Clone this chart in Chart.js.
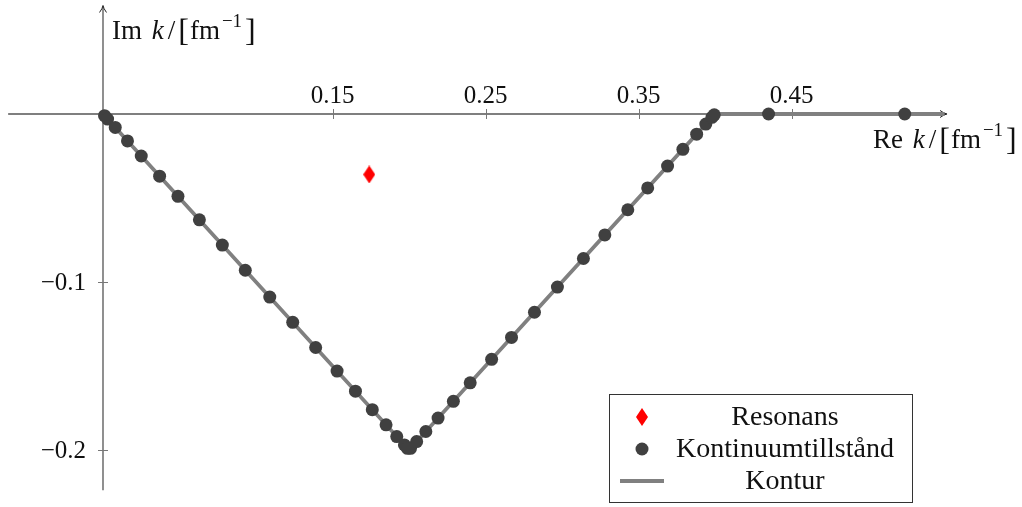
<!DOCTYPE html>
<html>
<head>
<meta charset="utf-8">
<script src="https://cdn.jsdelivr.net/npm/chart.js@4/dist/chart.umd.min.js"></script>
<style>
  html, body { margin: 0; padding: 0; background: #fff; }
  #wrap { width: 1022px; height: 507px; }
</style>
</head>
<body>
<div id="wrap"><canvas id="kChart" width="1022" height="507"></canvas></div>
<script>
// resonance pole
var resRe = [0.174];
var resIm = [-0.036];

// continuum states along the contour
var contRe = [0.001, 0.003, 0.008, 0.016, 0.025, 0.037, 0.049, 0.063, 0.078, 0.093,
              0.109, 0.124, 0.139, 0.153, 0.165, 0.176, 0.185, 0.192, 0.197, 0.199,
              0.201, 0.205, 0.211, 0.219, 0.229, 0.240, 0.254, 0.267, 0.282, 0.297,
              0.314, 0.328, 0.343, 0.356, 0.369, 0.379, 0.388, 0.394, 0.398, 0.3995,
              0.435, 0.524];
var contIm = [-0.001, -0.003, -0.008, -0.016, -0.025, -0.037, -0.049, -0.063, -0.078, -0.093,
              -0.109, -0.124, -0.139, -0.153, -0.165, -0.176, -0.185, -0.192, -0.197, -0.199,
              -0.199, -0.195, -0.189, -0.181, -0.171, -0.160, -0.146, -0.133, -0.118, -0.103,
              -0.086, -0.072, -0.057, -0.044, -0.031, -0.021, -0.012, -0.006, -0.002, -0.0005,
              0, 0];

// contour corners
var konturRe = [0, 0.2, 0.4, 0.55];
var konturIm = [0, -0.2, 0, 0];

var xTicks = [0.15, 0.25, 0.35, 0.45];
var xTickLabels = ['0.15', '0.25', '0.35', '0.45'];
var yTicks = [-0.1, -0.2];
var yTickLabels = ['\u22120.1', '\u22120.2'];

var seriesNames = ['Resonans', 'Kontinuumtillst\u00e5nd', 'Kontur'];

function pairs(xs, ys) {
    var out = [];
    for (var i = 0; i < xs.length; i++) out.push({ x: xs[i], y: ys[i] });
    return out;
}

// tall red diamond marker
var diamond = document.createElement('canvas');
diamond.width = 12;
diamond.height = 18;
var dctx = diamond.getContext('2d');
dctx.fillStyle = '#ff0000';
dctx.beginPath();
dctx.moveTo(6, 0);
dctx.lineTo(12, 9);
dctx.lineTo(6, 18);
dctx.lineTo(0, 9);
dctx.closePath();
dctx.fill();

var serif = '"Liberation Serif", "DejaVu Serif", serif';

function drawRich(ctx, parts, x, y) {
    ctx.textAlign = 'left';
    ctx.textBaseline = 'alphabetic';
    for (var i = 0; i < parts.length; i++) {
        var p = parts[i];
        ctx.font = p.font;
        ctx.fillText(p.t, x, y + (p.dy || 0));
        x += ctx.measureText(p.t).width + (p.gap || 0);
    }
}

function axisLabel(name) {
    return [
        { t: name + ' ', font: '27px ' + serif, gap: 3 },
        { t: 'k', font: 'italic 27px ' + serif, gap: 4 },
        { t: '/', font: '27px ' + serif, gap: 3 },
        { t: '[', font: '32px ' + serif, dy: 2, gap: 1 },
        { t: 'fm', font: '27px ' + serif, gap: 2 },
        { t: '\u22121', font: '19px ' + serif, dy: -12, gap: 3 },
        { t: ']', font: '32px ' + serif, dy: 2 }
    ];
}

var axesPlugin = {
    id: 'axesPlugin',
    beforeDatasetsDraw: function (chart) {
        var ctx = chart.ctx;
        var xs = chart.scales.x, ys = chart.scales.y;
        var x0 = xs.getPixelForValue(0), y0 = ys.getPixelForValue(0);
        var xl = xs.getPixelForValue(-0.062), xr = xs.getPixelForValue(0.551);
        var yb = ys.getPixelForValue(-0.224), yt = ys.getPixelForValue(0.064);
        ctx.save();
        ctx.strokeStyle = '#555';
        ctx.fillStyle = '#222';
        ctx.lineWidth = 1.3;
        ctx.beginPath();
        ctx.moveTo(xl, y0); ctx.lineTo(xr, y0);
        ctx.moveTo(x0, yb); ctx.lineTo(x0, yt);
        ctx.stroke();
        // arrow heads
        ctx.lineWidth = 1;
        ctx.strokeStyle = '#222';
        ctx.beginPath();
        ctx.moveTo(xr - 6, y0 - 3.5); ctx.quadraticCurveTo(xr - 2, y0 - 0.5, xr + 1, y0);
        ctx.quadraticCurveTo(xr - 2, y0 + 0.5, xr - 6, y0 + 3.5);
        ctx.moveTo(x0 - 3.5, yt + 6); ctx.quadraticCurveTo(x0 - 0.5, yt + 2, x0, yt - 1);
        ctx.quadraticCurveTo(x0 + 0.5, yt + 2, x0 + 3.5, yt + 6);
        ctx.stroke();
        // ticks
        ctx.strokeStyle = '#777';
        ctx.lineWidth = 1;
        ctx.beginPath();
        xTicks.forEach(function (v) {
            var px = Math.round(xs.getPixelForValue(v)) + 0.5;
            ctx.moveTo(px, y0 - 5); ctx.lineTo(px, y0 + 5);
        });
        yTicks.forEach(function (v) {
            var py = Math.round(ys.getPixelForValue(v)) + 0.5;
            ctx.moveTo(x0 - 5, py); ctx.lineTo(x0 + 5, py);
        });
        ctx.stroke();
        // tick labels
        ctx.fillStyle = '#111';
        ctx.font = '25px ' + serif;
        ctx.textAlign = 'center';
        ctx.textBaseline = 'alphabetic';
        xTicks.forEach(function (v, i) {
            ctx.fillText(xTickLabels[i], xs.getPixelForValue(v), y0 - 11);
        });
        ctx.textAlign = 'right';
        ctx.textBaseline = 'middle';
        yTicks.forEach(function (v, i) {
            ctx.fillText(yTickLabels[i], x0 - 17, ys.getPixelForValue(v) + 1);
        });
        // axis titles
        drawRich(ctx, axisLabel('Im'), x0 + 9, 39);
        drawRich(ctx, axisLabel('Re'), 873, y0 + 34);
        ctx.restore();
    },
    afterDraw: function (chart) {
        var ctx = chart.ctx;
        var ds = chart.data.datasets;
        ctx.save();
        ctx.fillStyle = '#fff';
        ctx.fillRect(609, 394, 303, 109);
        ctx.strokeStyle = '#333';
        ctx.lineWidth = 1;
        ctx.strokeRect(609.5, 394.5, 303, 108);
        var rows = [417, 449, 481];
        // symbols
        ctx.drawImage(diamond, 642 - 6, rows[0] - 9);
        ctx.fillStyle = ds[1].backgroundColor;
        ctx.beginPath();
        ctx.arc(642, rows[1], 6.5, 0, Math.PI * 2);
        ctx.fill();
        ctx.strokeStyle = ds[2].borderColor;
        ctx.lineWidth = ds[2].borderWidth;
        ctx.beginPath();
        ctx.moveTo(620, rows[2]); ctx.lineTo(664, rows[2]);
        ctx.stroke();
        ctx.fillStyle = '#111';
        ctx.font = '28px ' + serif;
        ctx.textAlign = 'center';
        ctx.textBaseline = 'middle';
        for (var i = 0; i < 3; i++) {
            ctx.fillText(seriesNames[i], 785, rows[i] + 1);
        }
        ctx.restore();
    }
};

new Chart(document.getElementById('kChart').getContext('2d'), {
    type: 'scatter',
    data: {
        datasets: [{
            label: seriesNames[0],
            data: pairs(resRe, resIm),
            pointStyle: diamond,
            order: 1
        }, {
            label: seriesNames[1],
            data: pairs(contRe, contIm),
            backgroundColor: '#404040',
            borderColor: '#404040',
            pointRadius: 6.5,
            pointBorderWidth: 0,
            order: 2
        }, {
            label: seriesNames[2],
            data: pairs(konturRe, konturIm),
            showLine: true,
            borderColor: '#808080',
            borderWidth: 3.8,
            pointRadius: 0,
            order: 3
        }]
    },
    options: {
        responsive: false,
        animation: false,
        layout: { padding: 0, autoPadding: false },
        plugins: {
            legend: { display: false },
            tooltip: { enabled: false }
        },
        scales: {
            x: { type: 'linear', display: false, min: -0.06732, max: 0.60065 },
            y: { type: 'linear', display: false, min: -0.233929, max: 0.067857 }
        }
    },
    plugins: [axesPlugin]
});
</script>
</body>
</html>
